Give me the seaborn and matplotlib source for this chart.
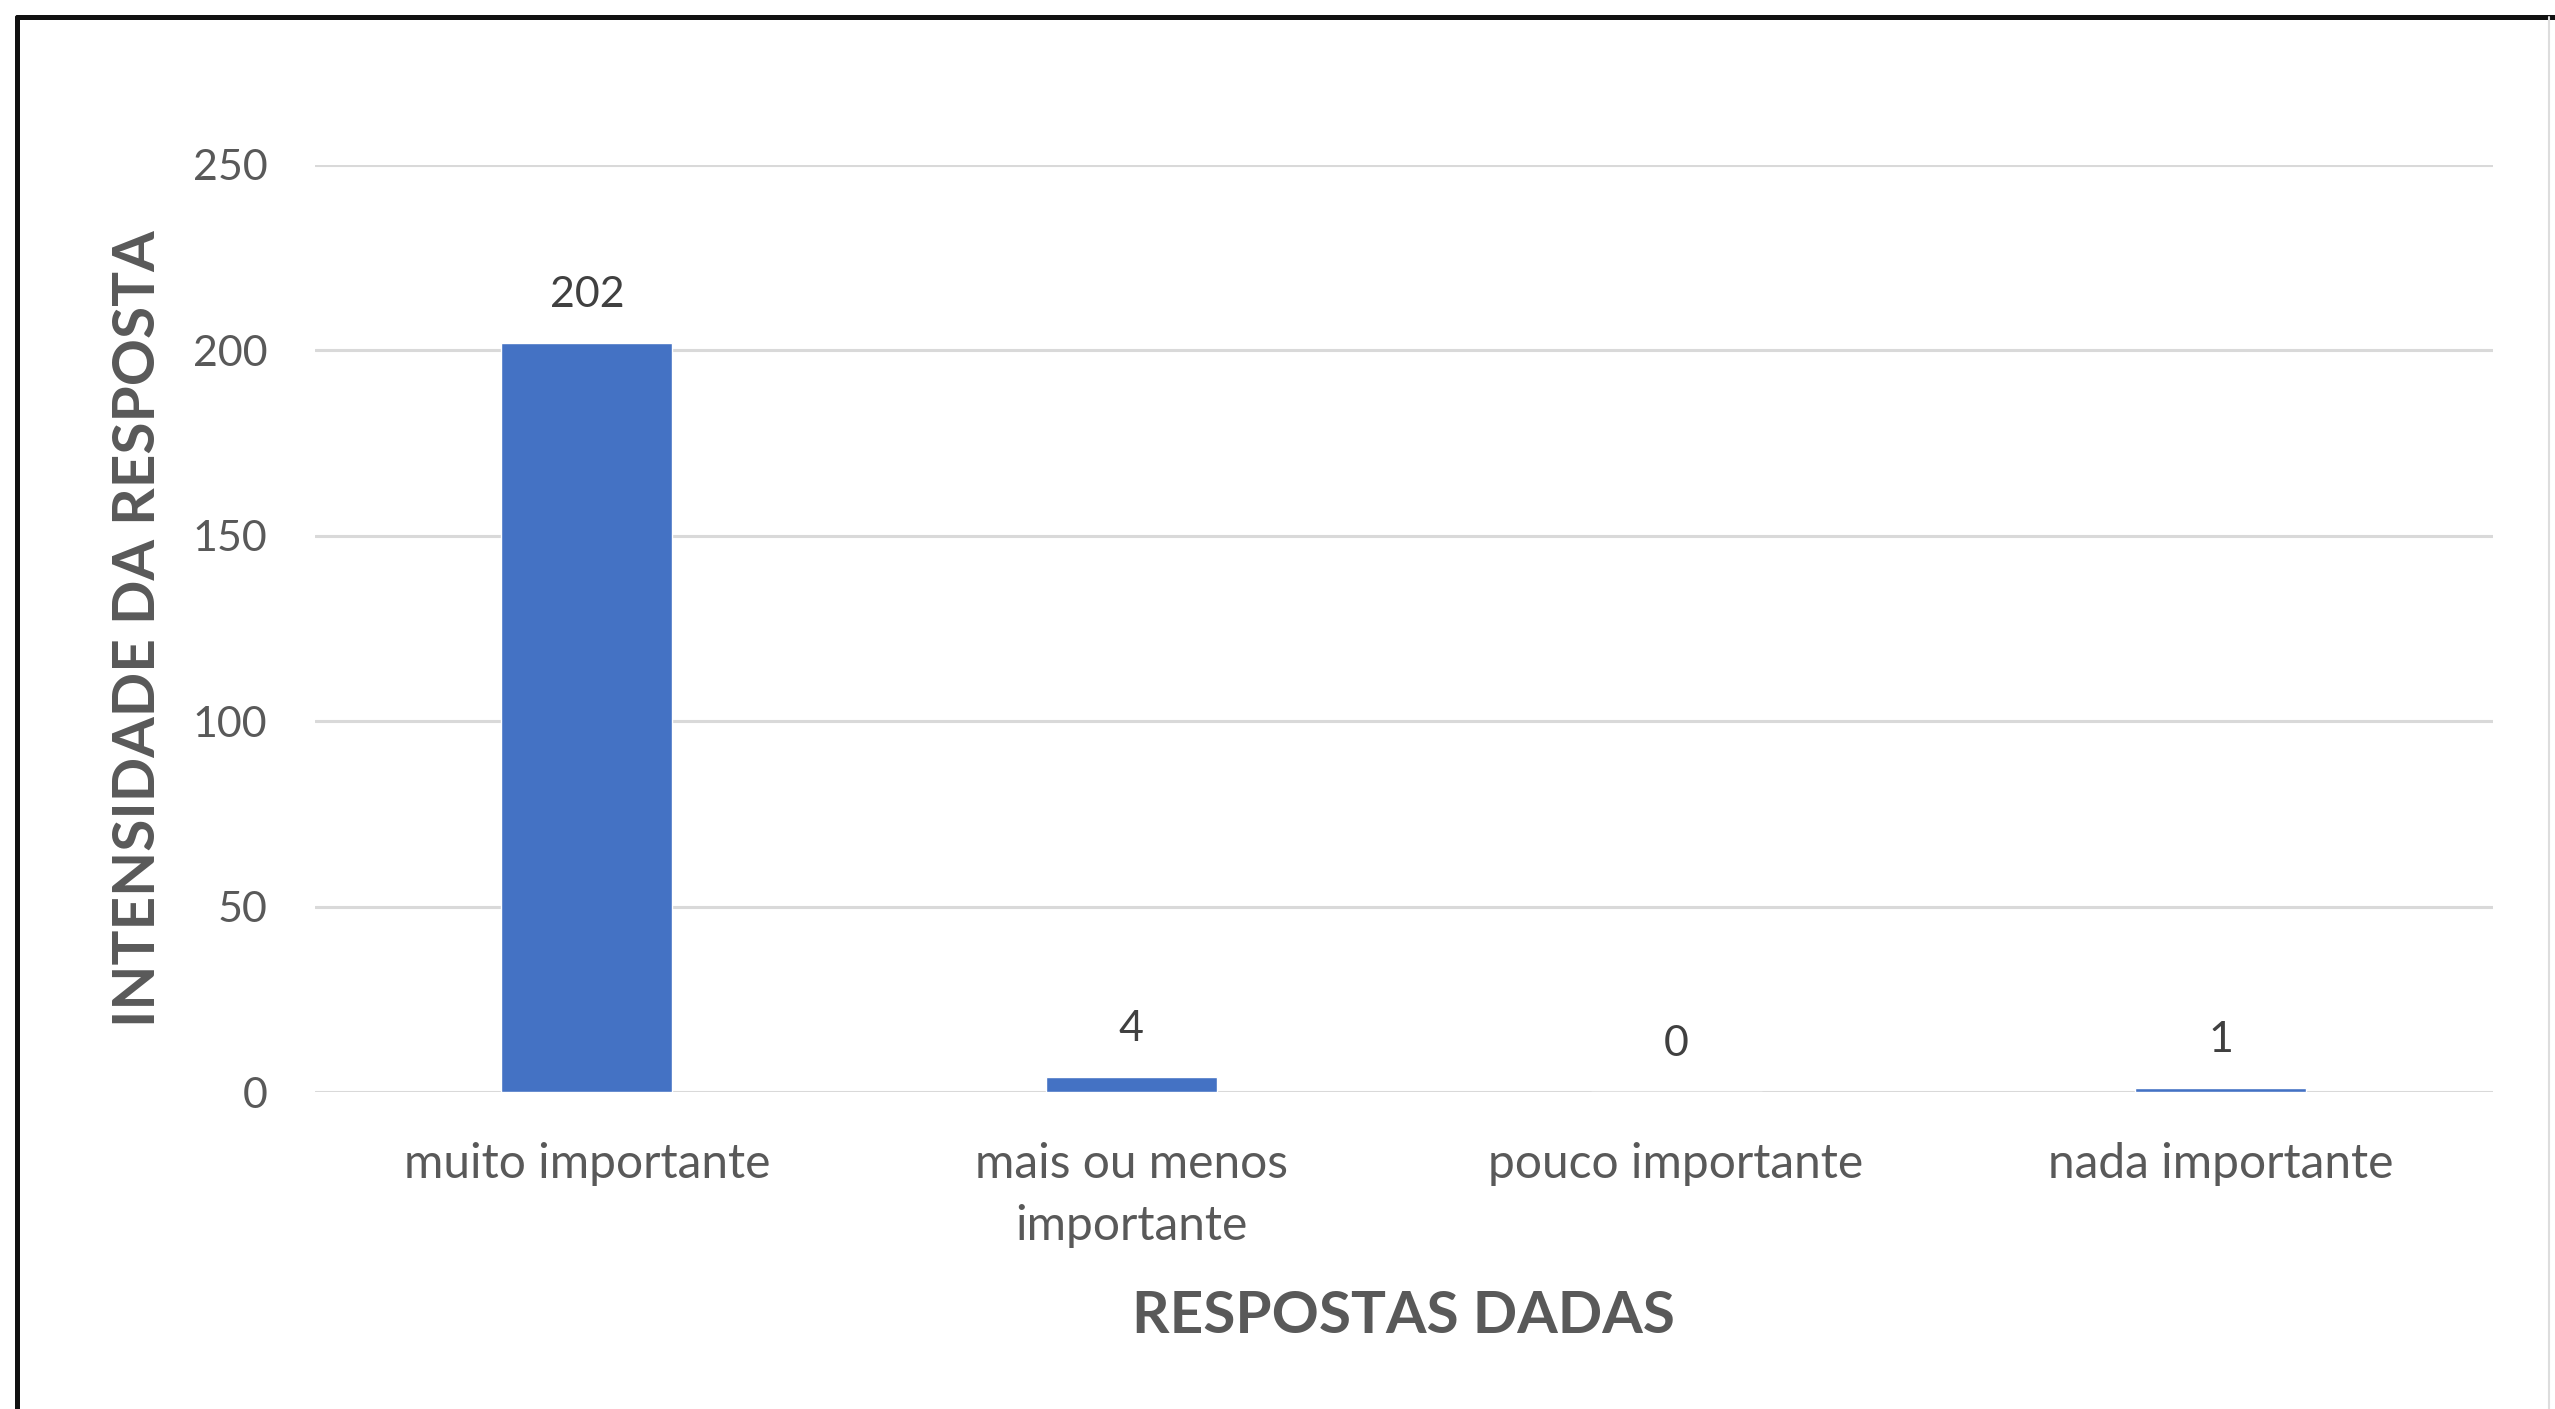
import matplotlib
matplotlib.use("Agg")
import matplotlib.pyplot as plt
from matplotlib.lines import Line2D
import seaborn as sns
import pandas as pd

categories = ["muito importante", "mais ou menos\nimportante", "pouco importante", "nada importante"]
values = [202, 4, 0, 1]
y_ticks = [0, 50, 100, 150, 200, 250]
x_title = "RESPOSTAS DADAS"
y_title = "INTENSIDADE DA RESPOSTA"

df = pd.DataFrame({"cat": categories, "val": values})

sns.set_theme(style="white")
plt.rcParams["font.family"] = ["Lato", "DejaVu Sans"]

W, H = 2555, 1409
fig = plt.figure(figsize=(W / 100, H / 100), dpi=100)
fig.patch.set_facecolor("white")
ax_l, ax_r, ax_t, ax_b = 314.5, 2493, 165, 1092
ax = fig.add_axes([ax_l / W, 1 - ax_b / H, (ax_r - ax_l) / W, (ax_b - ax_t) / H])

sns.barplot(data=df, x="cat", y="val", color="#4472C4", width=0.314, saturation=1, ax=ax, zorder=3)

ax.set_ylim(0, 250)
ax.set_xlim(-0.5, len(categories) - 0.5)
ax.set_yticks(y_ticks)
ax.set_yticklabels([str(t) for t in y_ticks])
ax.yaxis.grid(True, color="#D9D9D9", linewidth=2.2, zorder=0)
ax.set_axisbelow(True)
for s in ax.spines.values():
    s.set_visible(False)
ax.tick_params(axis="both", length=0, labelcolor="#595959")
ax.tick_params(axis="y", pad=34, labelsize=31)
ax.tick_params(axis="x", pad=36, labelsize=34.5)
for lbl in ax.get_xticklabels():
    lbl.set_linespacing(1.5)
    lbl.set_horizontalalignment("center")

ax.bar_label(ax.containers[0], labels=[str(v) for v in values], padding=21,
             fontsize=31, color="#404040")

ax.set_xlabel(x_title, fontsize=42, fontweight="bold", color="#595959", labelpad=30)
ax.set_ylabel(y_title, fontsize=42, fontweight="bold", color="#595959", labelpad=20)

# outer frame
fig.add_artist(Line2D([17 / W, 1.0], [1 - 17 / H, 1 - 17 / H], transform=fig.transFigure,
                      color="#111111", linewidth=3.6))
fig.add_artist(Line2D([17 / W, 17 / W], [0, 1 - 17 / H], transform=fig.transFigure,
                      color="#111111", linewidth=3.6))
fig.add_artist(Line2D([2549 / W, 2549 / W], [0, 1 - 17 / H], transform=fig.transFigure,
                      color="#DDDDDD", linewidth=1.5))

fig.savefig("out.png", dpi=100, facecolor="white")
